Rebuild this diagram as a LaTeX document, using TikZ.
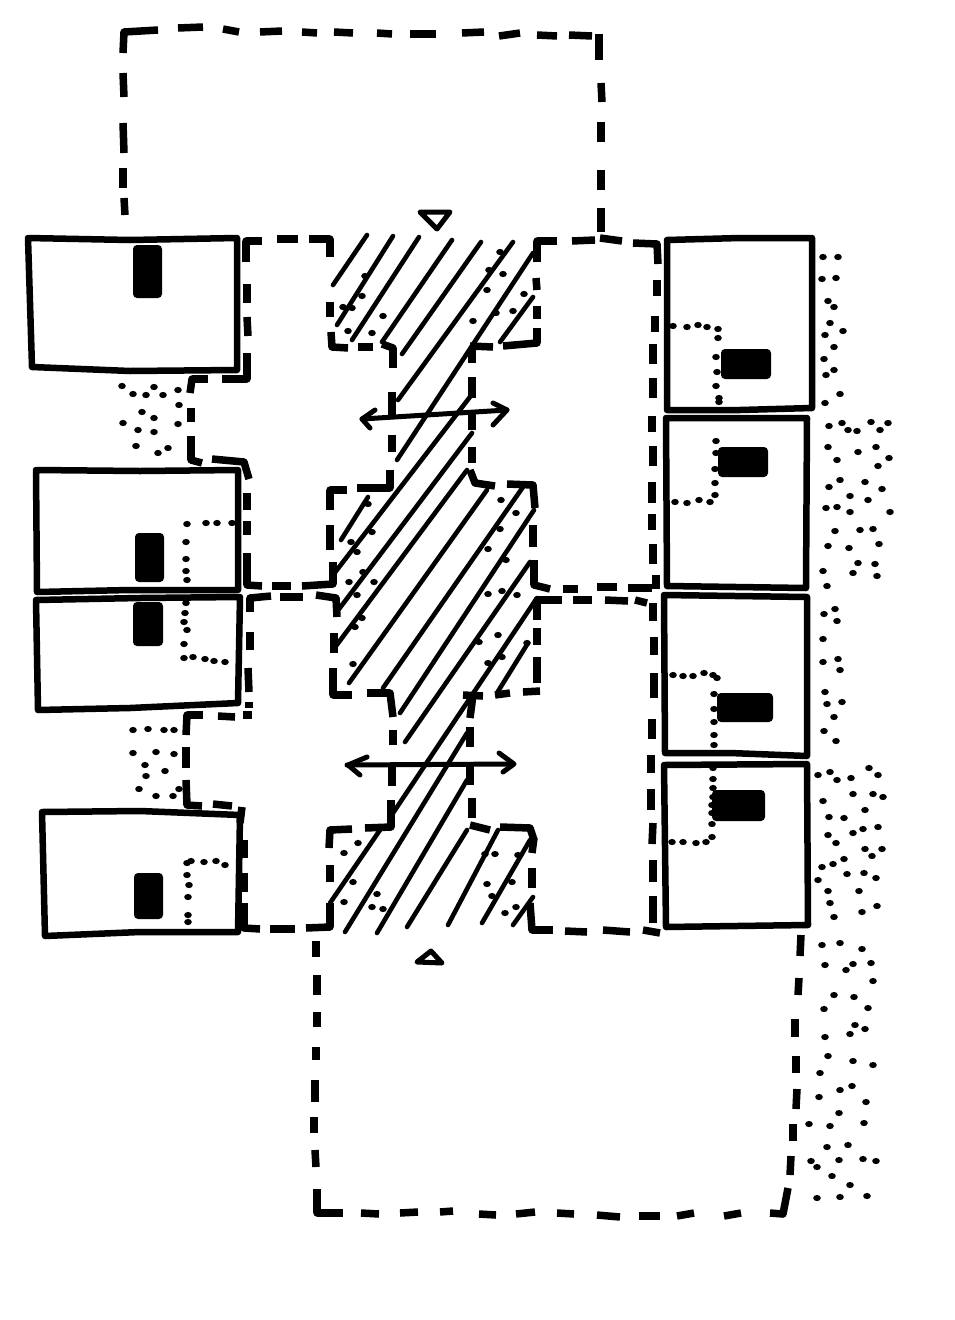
\documentclass[tikz,border=0pt]{standalone}
\newcommand{\dotset}[1]{\foreach \x/\y in {#1} \fill[black] (\x,\y) ellipse [x radius=3.8,y radius=3.1];}
\newcommand{\tagbox}[4]{\fill[black,rounded corners=4pt] (#1,#2) rectangle (#3,#4);}
\newcommand{\dashset}[1]{\foreach \pa/\pb/\pc/\pd in {#1} {\draw[seg] (\pa,\pb)--(\pc,\pd);}}
\newcommand{\cornerset}[1]{\foreach \pa/\pb/\pc/\pd/\pe/\pf in {#1} {\draw[seg] (\pa,\pb)--(\pc,\pd);\draw[seg] (\pc,\pd)--(\pe,\pf);\fill[black] (\pc,\pd) circle (3.75);}}
\tikzset{
  seg/.style={line width=7.5pt,line cap=butt,black},
  wall/.style={line width=6.5pt,line cap=round,line join=round,black},
  hatchline/.style={line width=4.6pt,line cap=round,line join=round,black},
  flow/.style={line width=5pt,line cap=round,line join=round,black},
  mark tri/.style={line width=5pt,line join=round,black,fill=white}
}
\begin{document}
\begin{tikzpicture}[x=1pt,y=-1pt]
\fill[white] (0,0) rectangle (954,1320);
\useasboundingbox (0,0) rectangle (954,1320);

% hatching
\foreach \pa/\pb/\pc/\pd in {367/235/333/285,393/236/337/325,419/237/352/340,452/240/382/342,
 481/242/402/354,513/242/398/400,533/253/397/460,533/297/500/342,368/497/341/540,473/393/333/575,
 472/433/336/613,467/470/333/650,487/490/349/683,523/487/383/688,534/510/400/713,530/562/405/742,
 537/598/393/813,528/643/497/693,467/733/345/932,467/780/377/933,467/830/407/927,498/830/448/925,
 530/840/482/923,533/897/513/925,380/830/330/903}
 {\draw[hatchline] (\pa,\pb)--(\pc,\pd);}

% dashed outlines: corners
\cornerset{123/53/124/32/158/30,246/262/246/241/262/241,309/239/330/239/330/257,
 247/353/247/379/222/379,208/379/192/379/190/393,191/436/191/460/202/463,212/459/244/462/249/479,
 247/553/247/585/262/586,302/586/333/584/333/562,250/612/250/598/271/596,316/595/336/598/337/617,
 203/715/187/715/186/735,186/780/187/805/202/806,244/903/244/928/260/929,306/928/330/927/330/903,
 331/332/332/347/348/348,382/344/393/348/393/368,390/470/390/488/357/488,347/490/330/490/330/510,
 333/668/333/695/352/695,367/693/390/693/393/717,391/800/391/827/365/828,352/829/330/830/329/848,
 537/262/537/241/557/241,633/243/657/244/658/264,537/328/537/343/503/346,470/470/475/483/495/486,
 507/484/533/485/535/508,534/560/534/585/550/589,537/620/537/600/562/600,500/827/530/828/534/840,
 530/903/532/930/553/930,317/1189/317/1213/343/1213,770/1213/783/1214/788/1188}

% dashed outlines: straight dashes
\dashset{534/838/532/853}
\dashset{178/28/203/27,223/29/239/32,260/32/282/31,302/32/317/33,334/32/353/33,377/33/392/34,
 410/34/436/34,462/33/484/32,499/36/520/33,537/35/557/36,569/35/592/36,599/34/599/60,
 601/83/602/102,601/122/601/142,601/170/601/190,601/208/601/232,
 123/73/124/97,123/123/124/153,123/168/123/188,124/198/125/215}
\dashset{277/239/298/239,247/284/247/303,247/317/248/336,191/408/191/422,247/493/247/510,
 247/521/247/535,272/586/291/586,280/597/303/597,250/632/250/650,248/668/249/692,249/702/249/708,
 243/715/252/715,218/716/235/717,186/747/186/768,213/804/232/806,242/807/240/823,
 244/840/244/858,244/873/244/892,270/929/295/929}
\dashset{330/302/330/317,358/347/373/347,392/392/392/417,392/435/392/452,330/525/330/550,
 334/633/334/653,393/730/393/745,392/765/392/786,330/865/330/882}
\dashset{572/241/595/240,600/238/622/241,536/278/537/290,537/306/537/319,470/346/493/347,
 472/350/472/363,472/377/472/398,472/410/472/430,472/447/472/463,533/525/533/547,
 563/589/578/589,597/587/617/587,628/588/652/588,573/600/592/600,605/600/628/601,635/600/647/603,
 537/628/537/645,537/657/537/683,540/691/523/692,510/693/495/695,483/696/463/695,473/695/470/718,
 470/727/470/747,470/762/470/785,472/798/472/818,470/825/490/830,532/868/532/888,
 565/931/587/932,603/930/630/932,643/930/660/933}
\dashset{657/280/657/296,655/316/655/332,653/344/653/364,653/378/653/398,652/416/652/432,
 653/446/653/466,652/482/652/503,652/514/652/530,653/544/653/564,656/575/656/589,
 653/603/653/621,654/637/654/655,654/673/654/698,652/719/652/739,651/755/651/773,
 651/789/651/810,653/823/652/844,653/860/653/882,653/896/653/923}
\dashset{316/941/316/957,317/975/317/995,317/1012/317/1027,316/1047/316/1060,315/1080/315/1102,
 314/1117/314/1133,315/1150/316/1167,361/1213/379/1214,400/1213/418/1212,440/1212/453/1211,
 479/1214/496/1215,516/1214/535/1212,557/1213/574/1214,597/1215/620/1217,639/1216/660/1216,
 677/1216/694/1213,724/1216/741/1213,801/935/800/956,799/978/798/995,795/1019/795/1037,
 796/1056/796/1073,797/1089/796/1109,793/1124/793/1141,791/1156/790/1175}

% blocks
\draw[wall] (28,238)--(130,240)--(237,238)--(237,370)--(130,371)--(32,367)--cycle;
\draw[wall] (36,470)--(140,471)--(238,470)--(238,590)--(130,590)--(37,592)--cycle;
\draw[wall] (36,600)--(140,598)--(240,597)--(238,703)--(130,708)--(38,710)--cycle;
\draw[wall] (42,812)--(140,811)--(240,815)--(238,932)--(140,932)--(45,936)--cycle;
\draw[wall] (667,240)--(740,238)--(812,238)--(812,408)--(740,410)--(667,410)--cycle;
\draw[wall] (666,418)--(807,418)--(806,588)--(667,586)--cycle;
\draw[wall] (664,595)--(807,597)--(807,756)--(730,753)--(665,753)--cycle;
\draw[wall] (664,765)--(807,764)--(808,925)--(666,927)--cycle;

% dark tags
\tagbox{133}{245}{162}{298}
\tagbox{135}{533}{164}{582}
\tagbox{133}{602}{163}{646}
\tagbox{134}{873}{163}{919}
\tagbox{721}{349}{771}{379}
\tagbox{718}{447}{768}{477}
\tagbox{717}{693}{773}{722}
\tagbox{712}{790}{765}{821}

% arrows
\draw[flow] (362,419)--(507,410);
\draw[flow] (375,410)--(362,419)--(370,428);
\draw[flow] (493,403)--(507,410)--(493,425);
\draw[flow] (347,765)--(513,764);
\draw[flow] (367,757)--(348,765)--(360,775);
\draw[flow] (499,753)--(514,764)--(503,772);

% entry triangles
\draw[mark tri] (420,212)--(450,212)--(437,229)--cycle;
\draw[mark tri] (417,962)--(431,951)--(442,963)--cycle;

% dotted lines in blocks
\dotset{673/326,687/327,698/325,707/327,718/329,718/338,716/357,717/372,716/386,719/402,719/398,717/418}
\dotset{716/441,716/453,715/469,715/483,715/495,710/502,699/500,687/503,675/502}
\dotset{673/675,683/676,693/676,704/673,713/675,717/678,714/694,714/709,714/722,714/735,714/745}
\dotset{713/768,713/779,713/788,713/797,712/805,712/813,712/824,712/837,706/842,696/843,683/842,672/842}
\dotset{187/524,206/523,217/523,232/523,186/542,186/559,186/571,187/580}
\dotset{186/603,185/613,184/622,187/630,184/644,184/658,193/657,205/659,214/661,225/662}
\dotset{187/863,191/861,204/862,216/861,225/865,187/875,189/885,188/897,188/915,188/922}

% stipple, left
\dotset{122/386,133/394,146/395,154/387,163/395,178/390,179/405,142/412,154/418,123/423,178/424,138/430,154/432,136/446,158/453,168/448}
\dotset{133/730,148/729,164/730,174/730,133/753,156/752,174/754,145/765,165/771,146/776,139/789,156/796,173/796,179/789}

% stipple, court
\dotset{362/296,343/307,352/308,365/276,383/316,372/333,348/331,500/252,489/270,503/274,487/290,524/294,513/311,496/313,473/321,368/504,501/500,516/513}
\dotset{351/542,357/552,372/532,500/529,488/549,506/560,349/582,374/582,363/572,357/595,362/618,355/627,488/594,502/591,517/595,498/635,479/642,527/643,502/657,488/663,353/664}
\dotset{358/843,344/853,353/882,344/902,377/894,372/907,383/909,485/854,495/854,518/855,512/882,487/884,492/896,516/907,505/913}

% stipple, right
\dotset{823/257,838/257,822/279,836/278,828/301,834/307,830/323,843/331,825/335,834/347,824/359,834/370,826/375,840/394,825/403}
\dotset{829/426,842/423,848/430,857/431,871/422,880/430,888/423,828/447,858/452,876/447,837/460,889/458,878/466,840/480,829/487,865/482,882/489,850/496,868/500,826/508,837/507,850/512,890/512,835/531,860/530,873/529,828/546,849/548,879/544,858/563,875/564,823/571,853/573,877/576,827/586}
\dotset{824/614,835/609,837/621,823/639,823/662,838/659,840/670,825/692,827/704,842/702,834/717,824/731,836/741}
\dotset{818/775,830/772,837/780,851/778,869/768,878/775,853/794,873/794,883/797,823/801,865/810,829/817,844/818,878/827,863/829,853/833,828/835,836/843,865/849,882/849,872/856,844/859,833/864,822/867,847/874,864/873,876/878,818/880,828/891,859/891,830/903,877/906,862/912,834/917}
\dotset{822/945,840/943,862/949,825/965,853/964,871/963,846/970,873/981,834/995,854/997,824/1009,868/1008,855/1025,865/1029,850/1034,825/1037,828/1056,853/1061,873/1065,820/1073,840/1090,852/1086,819/1097,866/1102,839/1113,809/1124,830/1126,864/1123,827/1147,848/1145,839/1160,863/1159,876/1161,811/1161,817/1167,832/1176,850/1185,817/1198,840/1197,867/1196}
\end{tikzpicture}
\end{document}
